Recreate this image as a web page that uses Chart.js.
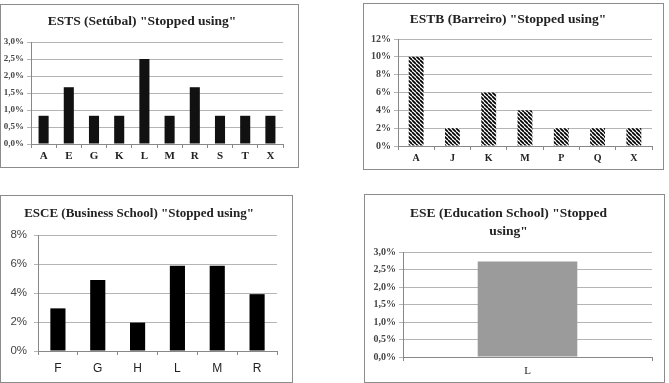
<!DOCTYPE html>
<html>
<head>
<meta charset="utf-8">
<script src="https://cdn.jsdelivr.net/npm/chart.js@4.4.0/dist/chart.umd.min.js"></script>
<style>
    body { margin: 0; background: #fff; width: 669px; height: 383px; overflow: hidden; position: relative; }
    .box { position: absolute; border: 1px solid #8c8c8c; background: #fff; }
    .box canvas { display: block; }
</style>
</head>
<body>
<div class="box" style="left:0px; top:4px; width:297px; height:162px;"><canvas id="c1" width="297" height="162"></canvas></div>
<div class="box" style="left:363px; top:3px; width:299px; height:165px;"><canvas id="c2" width="299" height="165"></canvas></div>
<div class="box" style="left:0px; top:195px; width:291px; height:186px;"><canvas id="c3" width="291" height="186"></canvas></div>
<div class="box" style="left:364px; top:194px; width:299px; height:187px;"><canvas id="c4" width="299" height="187"></canvas></div>
<script>
// values in percent
var estsLabels = ["A", "E", "G", "K", "L", "M", "R", "S", "T", "X"];
var estsValues = [0.83, 1.67, 0.83, 0.83, 2.5, 0.83, 1.67, 0.83, 0.83, 0.83];

var estbLabels = ["A", "J", "K", "M", "P", "Q", "X"];
var estbValues = [10, 2, 6, 4, 2, 2, 2];

var esceLabels = ["F", "G", "H", "L", "M", "R"];
var esceValues = [2.94, 4.9, 1.96, 5.88, 5.88, 3.92];

var eseLabels = ["L"];
var eseValues = [2.73];

var serif = "'Liberation Serif', 'DejaVu Serif', serif";
var sans = "'Liberation Sans', Arial, sans-serif";

function commaPct(v) { return v.toFixed(1).replace('.', ',') + '%'; }
function plainPct(v) { return v + '%'; }

// diagonal hatch for the Barreiro bars
function hatch() {
    var p = document.createElement('canvas');
    p.width = 4; p.height = 4;
    var g = p.getContext('2d');
    g.fillStyle = '#fff';
    g.fillRect(0, 0, 4, 4);
    g.strokeStyle = '#000';
    g.lineWidth = 1.7;
    [-4, 0, 4].forEach(function (k) {
        g.beginPath();
        g.moveTo(k, 0);
        g.lineTo(k + 4, 4);
        g.stroke();
    });
    return document.getElementById('c2').getContext('2d').createPattern(p, 'repeat');
}

function barChart(id, labels, values, o) {
    var ctx = document.getElementById(id).getContext('2d');
    return new Chart(ctx, {
        type: 'bar',
        data: {
            labels: labels,
            datasets: [{
                data: values,
                backgroundColor: o.color,
                borderWidth: 0,
                categoryPercentage: 1,
                barPercentage: o.barPct
            }]
        },
        options: {
            responsive: false,
            animation: false,
            layout: { padding: { left: 0, right: o.padRight, top: 0, bottom: 0 } },
            plugins: {
                legend: { display: false },
                tooltip: { enabled: false },
                title: {
                    display: true,
                    text: o.title,
                    color: '#222',
                    font: { family: serif, size: o.titleSize, weight: 'bold', lineHeight: o.titleLine },
                    padding: { top: o.titleTop, bottom: o.titleBottom }
                }
            },
            scales: {
                x: {
                    grid: { drawOnChartArea: false, drawTicks: true, tickLength: 4, color: '#888' },
                    border: { color: '#888' },
                    ticks: { color: '#222', padding: o.xPad, font: o.xFont },
                    afterFit: function (s) { s.height = o.xHeight; }
                },
                y: {
                    min: 0,
                    max: o.max,
                    grid: { color: '#b4b4b4', tickLength: 4 },
                    border: { color: '#888' },
                    ticks: { stepSize: o.step, color: '#444', padding: o.yPad, font: o.yFont, callback: o.fmt },
                    afterFit: function (s) { s.width = o.yWidth; }
                }
            }
        }
    });
}

barChart('c1', estsLabels, estsValues, {
    color: '#111', barPct: 0.4, padRight: 15,
    title: 'ESTS (Setúbal) "Stopped using"', titleSize: 13.5, titleLine: '13px', titleTop: 10, titleBottom: 14,
    xPad: 2, xHeight: 23, xFont: { family: serif, size: 11, weight: 'bold' },
    max: 3, step: 0.5, yFont: { family: serif, size: 9, weight: 'bold' }, yPad: 3, fmt: commaPct, yWidth: 30
});

barChart('c2', estbLabels, estbValues, {
    color: hatch(), barPct: 0.41, padRight: 11,
    title: 'ESTB (Barreiro) "Stopped using"', titleSize: 13.5, titleLine: '13px', titleTop: 9, titleBottom: 13,
    xPad: 2, xHeight: 23, xFont: { family: serif, size: 10, weight: 'bold' },
    max: 12, step: 2, yFont: { family: serif, size: 10, weight: 'bold' }, yPad: 3, fmt: plainPct, yWidth: 34
});

barChart('c3', esceLabels, esceValues, {
    color: '#000', barPct: 0.38, padRight: 15,
    title: 'ESCE (Business School) "Stopped using"', titleSize: 13, titleLine: '13px', titleTop: 11, titleBottom: 15,
    xPad: 6, xHeight: 31, xFont: { family: sans, size: 12 },
    max: 8, step: 2, yFont: { family: sans, size: 11.5 }, yPad: 7, fmt: plainPct, yWidth: 37
});

barChart('c4', eseLabels, eseValues, {
    color: '#9b9b9b', barPct: 0.4, padRight: 12,
    title: ['ESE (Education School) "Stopped', 'using"'], titleSize: 13.5, titleLine: '18px', titleTop: 10, titleBottom: 11,
    xPad: 4, xHeight: 25, xFont: { family: serif, size: 11 },
    max: 3, step: 0.5, yFont: { family: serif, size: 10, weight: 'bold' }, yPad: 3, fmt: commaPct, yWidth: 38
});
</script>
</body>
</html>
